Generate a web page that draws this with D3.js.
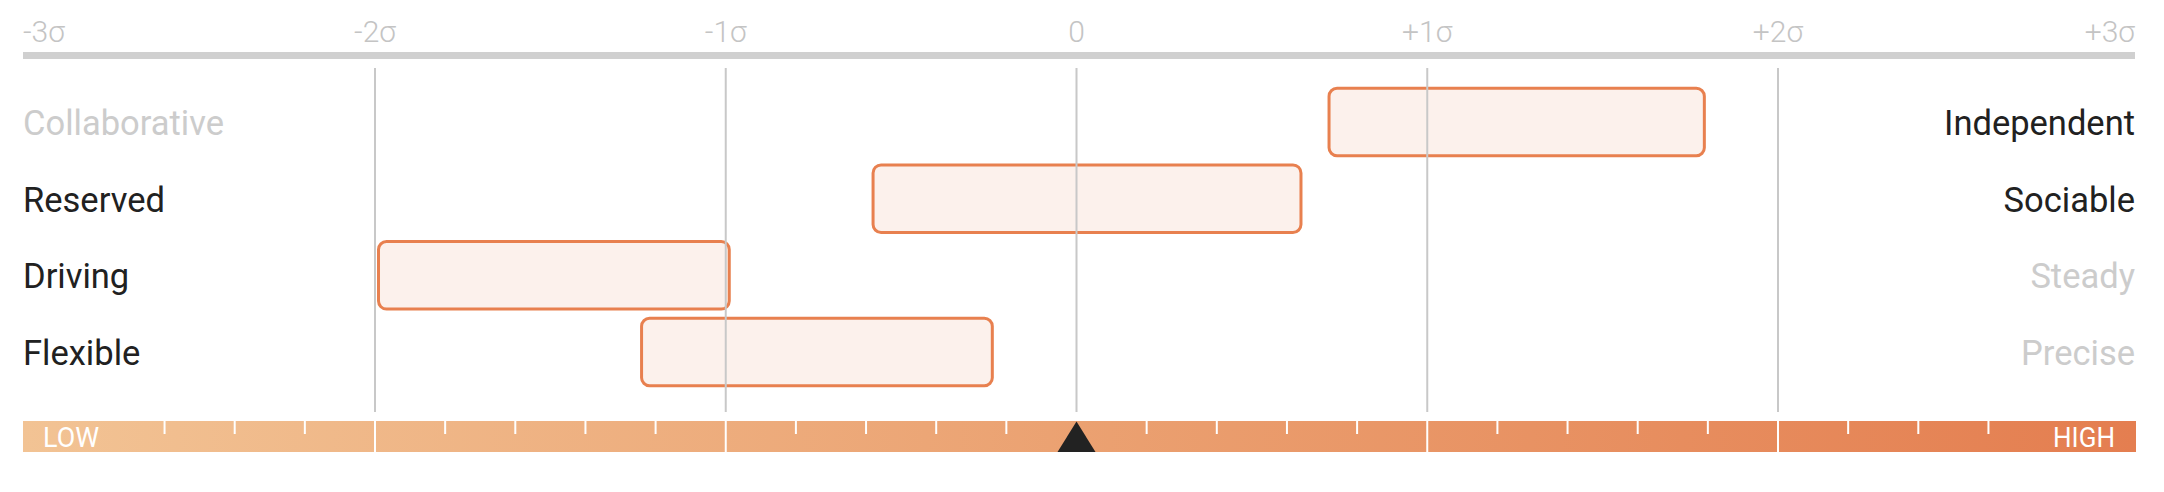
<!DOCTYPE html>
<html>
<head>
<meta charset="utf-8">
<script src="https://cdn.jsdelivr.net/npm/d3@7"></script>
<style>
  html, body { margin: 0; padding: 0; background: #fff; }
  svg { display: block; }
  text { font-family: Roboto, "Noto Sans", sans-serif; }
</style>
</head>
<body>
<div id="chart"></div>
<script>
// ---- data ----
const leftLabels = ["Collaborative", "Reserved", "Driving", "Flexible"];
const rightLabels = ["Independent", "Sociable", "Steady", "Precise"];
const rangeStart = [0.72, -0.58, -1.99, -1.24];
const rangeEnd = [1.79, 0.64, -0.99, -0.24];
const tickValues = [-3, -2, -1, 0, 1, 2, 3];
const tickLabels = ["-3σ", "-2σ", "-1σ", "0", "+1σ", "+2σ", "+3σ"];
const markerValue = 0;
const scaleEndLabels = ["LOW", "HIGH"];

// ---- layout ----
const W = 2164, H = 492;
const edgeL = 23, edgeR = 2135;
const svg = d3.select("#chart").append("svg").attr("width", W).attr("height", H);

const x = d3.scaleLinear().domain([-3, 3]).range([24.25, 2128.75]);
const rows = d3.range(leftLabels.length);
const y = d3.scalePoint().domain(rows).range([122, 352]);
const barH = 67.5;

const dark = "#212121", light = "#cccccc";

// top axis line
svg.append("line")
  .attr("x1", edgeL).attr("x2", edgeR)
  .attr("y1", 55.5).attr("y2", 55.5)
  .attr("stroke", "#d0d0d0").attr("stroke-width", 7);

// tick labels
svg.selectAll("text.tick").data(tickValues).enter().append("text")
  .attr("class", "tick")
  .attr("x", (d, i) => i === 0 ? edgeL : i === tickValues.length - 1 ? edgeR : x(d))
  .attr("y", 42)
  .attr("text-anchor", (d, i) => i === 0 ? "start" : i === tickValues.length - 1 ? "end" : "middle")
  .attr("font-size", 30).attr("font-weight", 300)
  .attr("fill", "#c4c4c4")
  .text((d, i) => tickLabels[i]);

// range bars
svg.selectAll("rect.range").data(rows).enter().append("rect")
  .attr("class", "range")
  .attr("x", i => x(rangeStart[i]))
  .attr("width", i => x(rangeEnd[i]) - x(rangeStart[i]))
  .attr("y", i => y(i) - barH / 2)
  .attr("height", barH)
  .attr("rx", 8).attr("ry", 8)
  .attr("fill", "#fcf1ec")
  .attr("stroke", "#e8804f").attr("stroke-width", 3);

// grid lines (drawn on top)
svg.selectAll("line.grid").data(tickValues.slice(1, -1)).enter().append("line")
  .attr("class", "grid")
  .attr("x1", d => x(d)).attr("x2", d => x(d))
  .attr("y1", 68).attr("y2", 412)
  .attr("stroke", "#c8c8c8").attr("stroke-width", 2);

// row labels
svg.selectAll("text.left").data(rows).enter().append("text")
  .attr("class", "left")
  .attr("x", edgeL).attr("y", i => y(i) + 13)
  .attr("font-size", 34.5)
  .attr("fill", i => rangeStart[i] < 0 ? dark : light)
  .text(i => leftLabels[i]);

svg.selectAll("text.right").data(rows).enter().append("text")
  .attr("class", "right")
  .attr("x", edgeR).attr("y", i => y(i) + 13)
  .attr("text-anchor", "end")
  .attr("font-size", 34.5)
  .attr("fill", i => rangeEnd[i] > 0 ? dark : light)
  .text(i => rightLabels[i]);

// bottom gradient scale
const defs = svg.append("defs");
const grad = defs.append("linearGradient").attr("id", "scaleGrad")
  .attr("x1", "0%").attr("x2", "100%").attr("y1", "0%").attr("y2", "0%");
grad.append("stop").attr("offset", "0%").attr("stop-color", "#f2c394");
grad.append("stop").attr("offset", "50%").attr("stop-color", "#eba171");
grad.append("stop").attr("offset", "100%").attr("stop-color", "#e47e50");

const sTop = 421, sH = 31;
svg.append("rect")
  .attr("x", edgeL).attr("y", sTop)
  .attr("width", edgeR + 1 - edgeL).attr("height", sH)
  .attr("fill", "url(#scaleGrad)");

// segment dividers at whole sigma (except centre, covered by marker)
svg.selectAll("line.div").data(tickValues.slice(1, -1).filter(d => d !== 0)).enter().append("line")
  .attr("class", "div")
  .attr("x1", d => x(d)).attr("x2", d => x(d))
  .attr("y1", sTop).attr("y2", sTop + sH)
  .attr("stroke", "#fff").attr("stroke-width", 2);

// minor ticks every 0.2 sigma (skipped under the LOW/HIGH labels)
const minor = d3.range(-14, 15).map(k => k / 5)
  .filter(v => Math.abs(v - Math.round(v)) > 1e-6 && Math.abs(v) < 2.7);
svg.selectAll("line.minor").data(minor).enter().append("line")
  .attr("class", "minor")
  .attr("x1", d => x(d)).attr("x2", d => x(d))
  .attr("y1", sTop).attr("y2", sTop + 13)
  .attr("stroke", "#fff").attr("stroke-width", 2);

// LOW / HIGH
svg.append("text").attr("x", 43).attr("y", 447)
  .attr("font-size", 27).attr("fill", "#fff")
  .attr("textLength", 56).attr("lengthAdjust", "spacingAndGlyphs")
  .text(scaleEndLabels[0]);
svg.append("text").attr("x", 2115).attr("y", 447)
  .attr("text-anchor", "end")
  .attr("font-size", 27).attr("fill", "#fff")
  .attr("textLength", 62).attr("lengthAdjust", "spacingAndGlyphs")
  .text(scaleEndLabels[1]);

// marker triangle
const mx = x(markerValue);
svg.append("path")
  .attr("d", d3.line()([[mx, sTop + 0.5], [mx + 19, sTop + sH], [mx - 19, sTop + sH]]) + "Z")
  .attr("fill", "#222");
</script>
</body>
</html>
